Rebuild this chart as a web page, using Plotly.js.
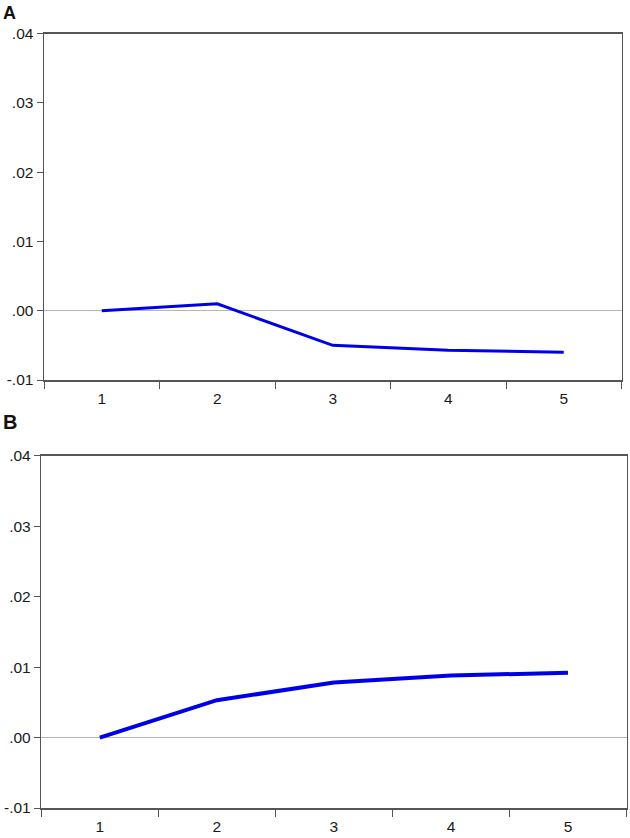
<!DOCTYPE html>
<html>
<head>
<meta charset="utf-8">
<script src="https://cdn.plot.ly/plotly-3.0.1.min.js"></script>
<style>html,body{margin:0;padding:0;background:#fff;}#chart{width:630px;height:838px;}</style>
</head>
<body>
<div id="chart"></div>
<script>
const periods = ["1", "2", "3", "4", "5"];
const seriesA = [0.0, 0.001, -0.0050, -0.0057, -0.0060];
const seriesB = [0.0, 0.0053, 0.0078, 0.0088, 0.0092];
const yTickVals = [-0.01, 0.0, 0.01, 0.02, 0.03, 0.04];
const yTickText = ["-.01", ".00", ".01", ".02", ".03", ".04"];
const panelLabels = ["A", "B"];

const W = 630, H = 838;
const axisColor = "#555555";
const font = {family: "Liberation Sans, Arial, sans-serif", size: 15.5, color: "#1a1a1a"};

function xAxis(domain) {
  return {
    domain: domain, type: "category", tickson: "boundaries",
    range: [-0.5, periods.length - 0.5], autorange: false,
    ticks: "outside", ticklen: 7, tickcolor: axisColor, tickwidth: 1,
    ticklabelstandoff: 4,
    showline: true, linecolor: axisColor, linewidth: 1.5, mirror: true,
    showgrid: false, zeroline: false, automargin: false, fixedrange: true,
    tickfont: font
  };
}
function yAxis(domain, anchor) {
  return {
    domain: domain, anchor: anchor, range: [-0.01, 0.04],
    tickvals: yTickVals, ticktext: yTickText,
    ticks: "outside", ticklen: 6, tickcolor: axisColor, tickwidth: 1,
    showline: true, linecolor: axisColor, linewidth: 1.5, mirror: true,
    showgrid: false, zeroline: true, zerolinecolor: "#b4b4b4", zerolinewidth: 1,
    automargin: false, fixedrange: true, tickfont: font
  };
}

const traces = [
  {x: periods, y: seriesA, xaxis: "x", yaxis: "y", type: "scatter", mode: "lines",
   line: {color: "#0000e8", width: 3}, hoverinfo: "skip"},
  {x: periods, y: seriesB, xaxis: "x2", yaxis: "y2", type: "scatter", mode: "lines",
   line: {color: "#0000e8", width: 4}, hoverinfo: "skip"}
];

const layout = {
  width: W, height: H,
  margin: {l: 0, r: 0, t: 0, b: 0},
  paper_bgcolor: "#ffffff", plot_bgcolor: "#ffffff",
  showlegend: false,
  xaxis: Object.assign(xAxis([44 / W, 621.5 / W]), {anchor: "y"}),
  yaxis: yAxis([1 - 380 / H, 1 - 33.7 / H], "x"),
  xaxis2: Object.assign(xAxis([41.3 / W, 626.5 / W]), {anchor: "y2"}),
  yaxis2: yAxis([1 - 808 / H, 1 - 455.7 / H], "x2"),
  annotations: [
    {text: "<b>" + panelLabels[0] + "</b>", xref: "paper", yref: "paper",
     x: 1 / W, y: 1 - 1 / H, xanchor: "left", yanchor: "top", showarrow: false,
     font: {family: "Liberation Sans, Arial, sans-serif", size: 18, color: "#111"}},
    {text: "<b>" + panelLabels[1] + "</b>", xref: "paper", yref: "paper",
     x: 1 / W, y: 1 - 409 / H, xanchor: "left", yanchor: "top", showarrow: false,
     font: {family: "Liberation Sans, Arial, sans-serif", size: 20, color: "#111"}}
  ]
};

Plotly.newPlot("chart", traces, layout, {staticPlot: true, displayModeBar: false});
</script>
</body>
</html>
